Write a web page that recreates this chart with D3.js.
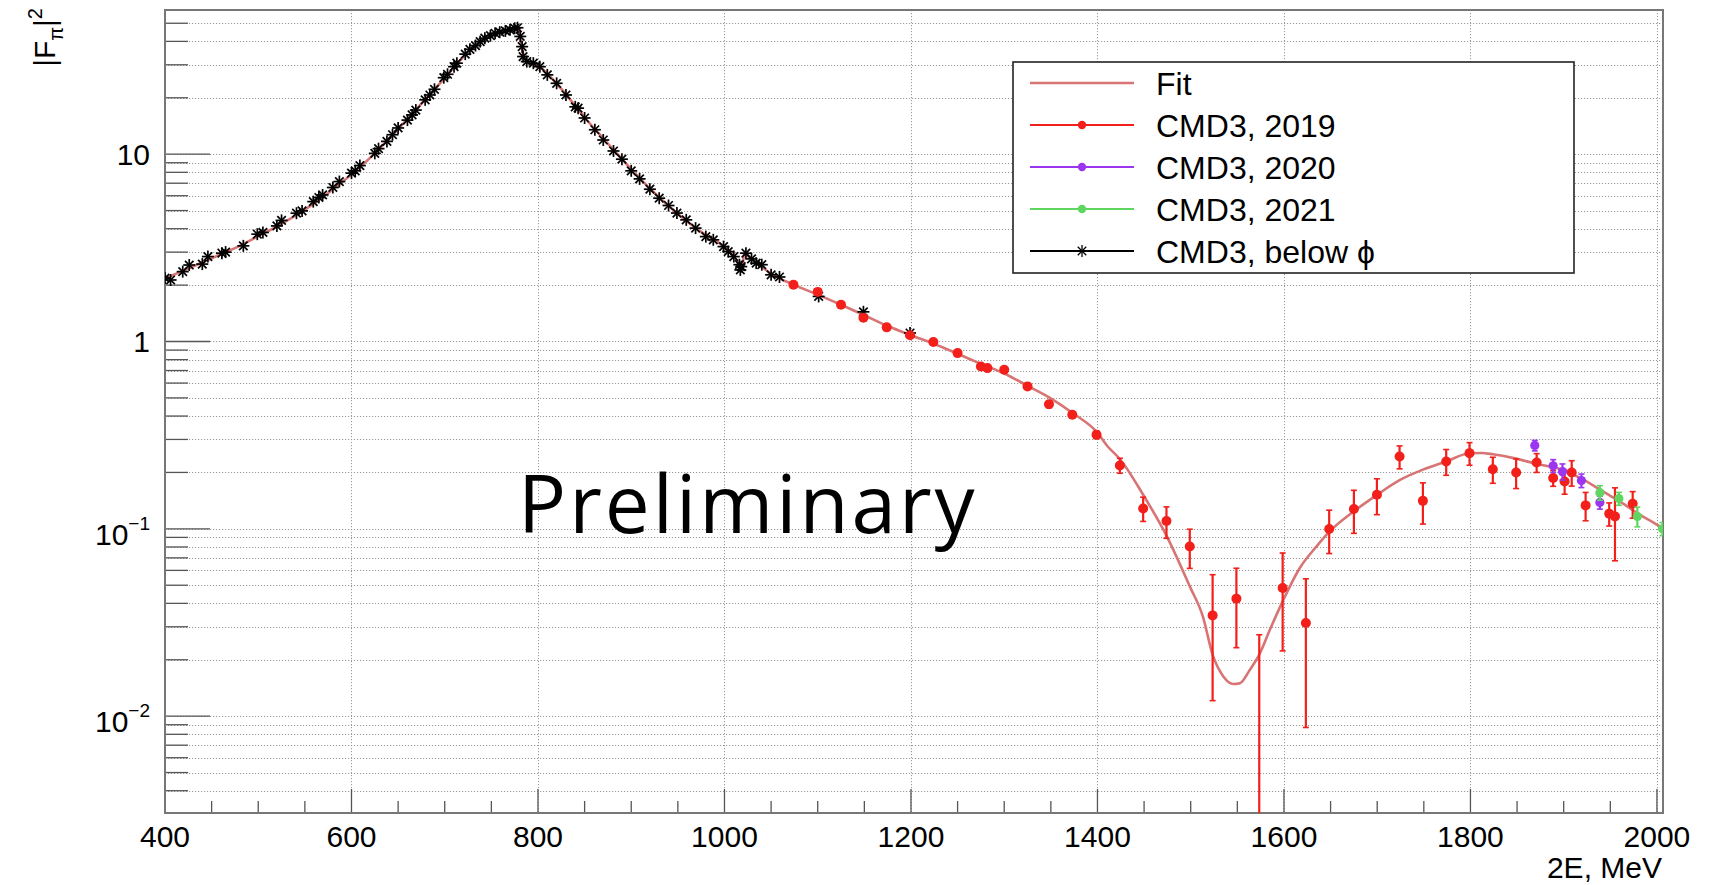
<!DOCTYPE html>
<html>
<head>
<meta charset="utf-8">
<script src="https://cdn.jsdelivr.net/npm/d3@7"></script>
<style>
  html, body { margin: 0; padding: 0; background: #fff; }
  svg { display: block; }
  text { font-family: "Liberation Sans", Arial, Helvetica, sans-serif; fill: #000; }
</style>
</head>
<body>
<svg id="chart" width="1718" height="885"></svg>
<script>
// ---- data: pion form factor |F_pi|^2 vs 2E (MeV) ----

// CMD3, below phi
const belowPhiE = [400, 406, 419, 426, 440, 446, 461, 465, 484, 499, 505, 520, 525, 541, 547, 559, 565, 569,
  580, 587, 600, 604, 609, 625, 629, 638, 644, 650, 660, 665, 669, 679, 684, 689, 699, 703, 710, 713,
  722, 727, 733, 738, 743, 749, 754, 759, 765, 770, 775, 778, 781, 783, 784, 788, 795, 802, 810, 820,
  830, 840, 843, 850, 861, 870, 881, 890, 900, 909, 920, 930, 940, 949, 959, 969, 980, 988, 999, 1004,
  1010, 1016, 1017, 1018, 1023, 1029, 1034, 1040, 1050, 1059, 1101, 1149, 1199];
const belowPhiV = [2.18, 2.13, 2.36, 2.56, 2.59, 2.84, 2.96, 3.00, 3.24, 3.74, 3.82, 4.14, 4.43, 4.84, 4.98, 5.58, 5.87, 6.06,
  6.64, 7.14, 7.92, 8.15, 8.69, 10.1, 10.7, 11.7, 12.7, 13.8, 15.2, 16.2, 17.2, 19.5, 20.7, 22.2, 25.6, 26.7, 29.3, 30.6,
  34.2, 36.3, 38.0, 39.9, 41.6, 42.9, 44.2, 44.8, 45.5, 46.1, 47.0, 47.3, 42.5, 37.5, 33.2, 31.2, 30.6, 29.3, 26.5, 23.9,
  20.7, 17.9, 17.6, 15.6, 13.5, 11.9, 10.4, 9.4, 8.15, 7.38, 6.50, 5.82, 5.32, 4.85, 4.46, 4.03, 3.63, 3.49, 3.21, 3.02,
  2.84, 2.57, 2.41, 2.51, 2.96, 2.76, 2.62, 2.57, 2.27, 2.21, 1.74, 1.44, 1.11];

// CMD3, 2019
const cmd2019E = [1074, 1100, 1125, 1149, 1174, 1199, 1224, 1250, 1275, 1282, 1300, 1325, 1348, 1373, 1399,
  1424, 1449, 1474, 1499, 1523.5, 1549, 1573.5, 1598.6, 1623.5, 1648.5, 1675, 1699.7, 1724, 1749, 1774,
  1799, 1824, 1849, 1871, 1888.7, 1901, 1908.6, 1923.5, 1948.8, 1955, 1974];
const cmd2019V = [2.01, 1.84, 1.57, 1.34, 1.19, 1.08, 0.993, 0.867, 0.736, 0.721, 0.706, 0.576, 0.462, 0.406, 0.318,
  0.218, 0.1285, 0.110, 0.0805, 0.0345, 0.0424, 0.0015, 0.0483, 0.0314, 0.0998, 0.1276, 0.152, 0.243, 0.141, 0.229,
  0.2535, 0.208, 0.200, 0.226, 0.1866, 0.179, 0.200, 0.1334, 0.1205, 0.1165, 0.136];
const cmd2019Err = [0.03, 0.06, 0.04, 0.04, 0.03, 0.03, 0.025, 0.02, 0.02, 0.02, 0.015, 0.015, 0.019, 0.015, 0.015,
  0.020, 0.019, 0.021, 0.019, 0.0224, 0.0192, 0.0257, 0.026, 0.0227, 0.026, 0.033, 0.033, 0.034, 0.035, 0.036,
  0.035, 0.033, 0.036, 0.026, 0.018, 0.026, 0.031, 0.023, 0.017, 0.049, 0.022];

// CMD3, 2020
const cmd2020E = [1869, 1888.7, 1898.7, 1919, 1938.8];
const cmd2020V = [0.2786, 0.217, 0.202, 0.181, 0.1384];
const cmd2020Err = [0.018, 0.017, 0.020, 0.015, 0.011];

// CMD3, 2021
const cmd2021E = [1938.8, 1959.2, 1979, 2006];
const cmd2021V = [0.156, 0.145, 0.1165, 0.100];
const cmd2021Err = [0.014, 0.0115, 0.014, 0.008];

// Fit curve
const fitE = [400, 425, 450, 475, 500, 525, 550, 575, 600, 625, 650, 675, 700, 725, 750, 765, 775, 779, 781, 783, 785,
  790, 800, 825, 850, 875, 900, 925, 950, 975, 1000, 1010, 1016, 1019, 1021, 1025, 1035, 1050, 1075, 1100, 1125,
  1150, 1175, 1200, 1225, 1250, 1275, 1300, 1325, 1349, 1374, 1399, 1411, 1424, 1449, 1474, 1499, 1513, 1523.5,
  1535, 1545.6, 1552.8, 1563.5, 1573.5, 1585, 1598.6, 1617, 1635, 1649, 1675, 1700, 1724, 1749, 1774, 1799, 1812,
  1824, 1849, 1871, 1892.5, 1917.5, 1939, 1960, 1981.5, 2003, 2006.5];
const fitV = [2.17, 2.45, 2.78, 3.15, 3.65, 4.25, 5.05, 6.2, 7.8, 10.1, 13.6, 18.6, 25.5, 35, 43, 45.8, 47.0, 47.3, 43, 37, 33,
  31, 29.6, 22.3, 15.7, 11.4, 8.3, 6.2, 4.8, 3.85, 3.2, 2.88, 2.55, 2.45, 2.95, 2.85, 2.62, 2.3, 2.0, 1.78, 1.57,
  1.38, 1.21, 1.08, 0.97, 0.86, 0.76, 0.675, 0.58, 0.50, 0.413, 0.33, 0.275, 0.236, 0.152, 0.092, 0.0493, 0.0341, 0.0213,
  0.0163, 0.01485, 0.0150, 0.0177, 0.0213, 0.0290, 0.0410, 0.0618, 0.0806, 0.0968, 0.124, 0.152, 0.182, 0.207, 0.229, 0.253, 0.254,
  0.250, 0.237, 0.222, 0.211, 0.187, 0.162, 0.140, 0.119, 0.103, 0.100];

// Axis ticks and labels
const xMajorTicks = [400, 600, 800, 1000, 1200, 1400, 1600, 1800, 2000];
const yMajorTicks = [0.01, 0.1, 1, 10];
const yMajorLabels = [["10", "\u22122"], ["10", "\u22121"], ["1", null], ["10", null]];

const legendLabels = ["Fit", "CMD3, 2019", "CMD3, 2020", "CMD3, 2021", "CMD3, below \u03d5"];

// ---- layout ----
const frame = { left: 165, right: 1663, top: 10, bottom: 813 };
const colors = { fit: "#d87474", y2019: "#f21f1a", y2020: "#9b35f0", y2021: "#5fd65f", below: "#000" };

const svg = d3.select("#chart");

const x = d3.scaleLinear().domain([400, 2006.5]).range([frame.left, frame.right]);
const y = d3.scaleLog().domain([Math.pow(10, -2.517), Math.pow(10, 1.7696)]).range([frame.bottom, frame.top]);
const yMin = y.domain()[0];

svg.append("defs").append("clipPath").attr("id", "plotClip")
  .append("rect")
  .attr("x", frame.left).attr("y", frame.top)
  .attr("width", frame.right - frame.left).attr("height", frame.bottom - frame.top);

// grid
const yAllTicks = [];
for (let d = -3; d <= 1; d++) {
  for (let m = 1; m <= 9; m++) {
    const v = m * Math.pow(10, d);
    if (v >= y.domain()[0] && v <= y.domain()[1]) yAllTicks.push(v);
  }
}
const grid = svg.append("g").attr("stroke", "#9a9a9a").attr("stroke-width", 1).attr("stroke-dasharray", "1.2,1.8");
grid.selectAll("line.gy").data(yAllTicks).join("line")
  .attr("x1", frame.left).attr("x2", frame.right)
  .attr("y1", d => Math.round(y(d)) + 0.5).attr("y2", d => Math.round(y(d)) + 0.5);
grid.selectAll("line.gx").data(xMajorTicks).join("line")
  .attr("x1", d => Math.round(x(d)) + 0.5).attr("x2", d => Math.round(x(d)) + 0.5)
  .attr("y1", frame.top).attr("y2", frame.bottom);

// axes (ticks drawn inward, ROOT style)
const axisColor = "#555";
const xMinor = d3.range(400, 2001, 50);
const ax = svg.append("g").attr("stroke", axisColor).attr("stroke-width", 1.3);
ax.selectAll("line.xt").data(xMinor).join("line")
  .attr("x1", d => x(d)).attr("x2", d => x(d))
  .attr("y1", frame.bottom)
  .attr("y2", d => frame.bottom - (d % 200 === 0 ? 24 : 12));
ax.selectAll("line.yt").data(yAllTicks).join("line")
  .attr("y1", d => y(d)).attr("y2", d => y(d))
  .attr("x1", frame.left)
  .attr("x2", d => frame.left + (yMajorTicks.some(t => Math.abs(t - d) / t < 1e-9) ? 45 : 23));

// frame
svg.append("rect")
  .attr("x", frame.left).attr("y", frame.top)
  .attr("width", frame.right - frame.left).attr("height", frame.bottom - frame.top)
  .attr("fill", "none").attr("stroke", "#777").attr("stroke-width", 2);

// x tick labels
svg.append("g").selectAll("text").data(xMajorTicks).join("text")
  .attr("x", d => x(d)).attr("y", 847)
  .attr("text-anchor", "middle").attr("font-size", 30)
  .text(d => d);

// y tick labels
const yl = svg.append("g");
yMajorTicks.forEach((t, i) => {
  const [base, exp] = yMajorLabels[i];
  const txt = yl.append("text").attr("text-anchor", "end").attr("font-size", 30)
    .attr("x", 150).attr("y", y(t) + (exp ? 16 : 11));
  txt.append("tspan").text(base);
  if (exp) txt.append("tspan").attr("font-size", 19).attr("dy", -15).text(exp);
});

// axis titles
svg.append("text").attr("x", 1662).attr("y", 878).attr("text-anchor", "end")
  .attr("font-size", 30).text("2E, MeV");

const yt = svg.append("text").attr("text-anchor", "end").attr("font-size", 30)
  .attr("transform", "translate(55,8) rotate(-90)");
yt.append("tspan").text("|F");
yt.append("tspan").attr("font-size", 20).attr("dy", 8).text("\u03c0");
yt.append("tspan").attr("dy", -8).text("|");
yt.append("tspan").attr("font-size", 20).attr("dy", -13).text("2");

// plot content
const plot = svg.append("g").attr("clip-path", "url(#plotClip)");

// fit curve
const fitData = fitE.map((e, i) => ({ e, v: fitV[i] }));
plot.append("path").datum(fitData)
  .attr("fill", "none").attr("stroke", colors.fit).attr("stroke-width", 2.6)
  .attr("d", d3.line().x(d => x(d.e)).y(d => y(d.v)).curve(d3.curveMonotoneX));

// asterisk marker
function asterisk(g, cx, cy, r, color, sw) {
  const k = r * Math.SQRT1_2;
  const segs = [[-r, 0, r, 0], [0, -r, 0, r], [-k, -k, k, k], [-k, k, k, -k]];
  segs.forEach(s => g.append("line")
    .attr("x1", cx + s[0]).attr("y1", cy + s[1]).attr("x2", cx + s[2]).attr("y2", cy + s[3])
    .attr("stroke", color).attr("stroke-width", sw));
}

// below-phi points
const bg = plot.append("g");
belowPhiE.forEach((e, i) => asterisk(bg, x(e), y(belowPhiV[i]), 6, colors.below, 1.7));

// points with error bars
function drawSeries(E, V, Err, color, r) {
  const g = plot.append("g");
  const data = E.map((e, i) => ({ e, v: V[i], err: Err[i] }));
  data.forEach(d => {
    const hi = d.v + d.err;
    const lo = d.v - d.err;
    const yHi = y(hi);
    const yLo = lo > yMin ? y(lo) : frame.bottom + 5;
    const cx = x(d.e);
    g.append("line").attr("x1", cx).attr("x2", cx).attr("y1", yHi).attr("y2", yLo)
      .attr("stroke", color).attr("stroke-width", 2.2);
    g.append("line").attr("x1", cx - 3).attr("x2", cx + 3).attr("y1", yHi).attr("y2", yHi)
      .attr("stroke", color).attr("stroke-width", 1.6);
    if (lo > yMin) {
      g.append("line").attr("x1", cx - 3).attr("x2", cx + 3).attr("y1", yLo).attr("y2", yLo)
        .attr("stroke", color).attr("stroke-width", 1.6);
    }
  });
  g.selectAll("circle").data(data).join("circle")
    .attr("cx", d => x(d.e)).attr("cy", d => y(Math.max(d.v, yMin / 10)))
    .attr("r", r).attr("fill", color);
}
drawSeries(cmd2019E, cmd2019V, cmd2019Err, colors.y2019, 5);
drawSeries(cmd2020E, cmd2020V, cmd2020Err, colors.y2020, 4.6);
drawSeries(cmd2021E, cmd2021V, cmd2021Err, colors.y2021, 4.6);

// watermark
svg.append("text").attr("x", 518).attr("y", 533)
  .style("font-family", "'Open Sans', 'Noto Sans', sans-serif")
  .style("letter-spacing", "3px")
  .attr("font-size", 80).text("Preliminary");

// legend
const lg = svg.append("g");
lg.append("rect").attr("x", 1013).attr("y", 62).attr("width", 561).attr("height", 211)
  .attr("fill", "#fff").attr("stroke", "#222").attr("stroke-width", 1.6);
const legendColors = [colors.fit, colors.y2019, colors.y2020, colors.y2021, colors.below];
legendLabels.forEach((lab, i) => {
  const cy = 83 + i * 42;
  lg.append("line").attr("x1", 1030).attr("x2", 1134).attr("y1", cy).attr("y2", cy)
    .attr("stroke", legendColors[i]).attr("stroke-width", i === 0 ? 2.4 : 2);
  if (i >= 1 && i <= 3) {
    lg.append("circle").attr("cx", 1082).attr("cy", cy).attr("r", 4.2).attr("fill", legendColors[i]);
  } else if (i === 4) {
    asterisk(lg, 1082, cy, 6, "#000", 1.3);
  }
  lg.append("text").attr("x", 1156).attr("y", cy).attr("dy", "0.36em")
    .attr("font-size", 32).text(lab);
});
</script>
</body>
</html>
